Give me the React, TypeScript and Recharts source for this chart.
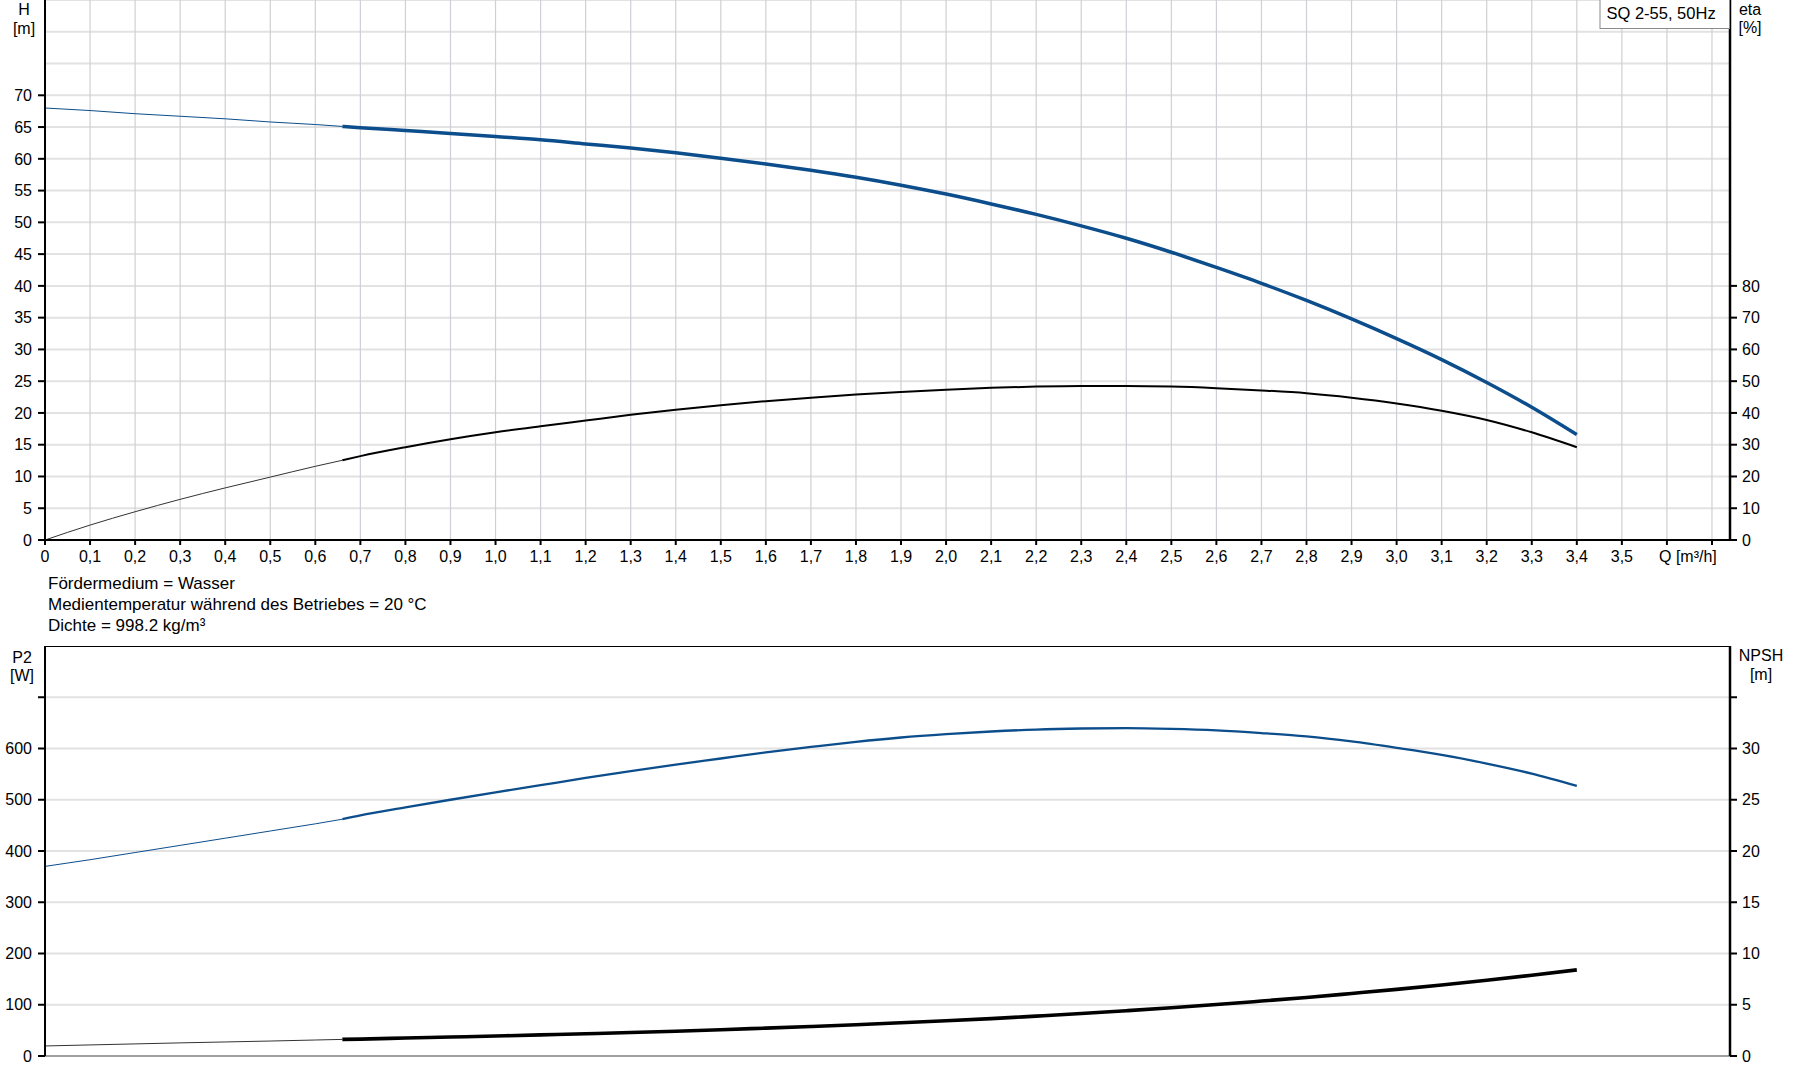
import React from 'react';
import { ComposedChart, Line, XAxis, YAxis, CartesianGrid, ReferenceLine } from 'recharts';

const FONT = '"Liberation Sans", Arial, sans-serif';
const BLUE = '#0c4d8c';

// flow rate Q [m³/h]; 0.66 is where the thin (extrapolated) part ends
const flowQ = [0, 0.1, 0.2, 0.3, 0.4, 0.5, 0.6, 0.66, 0.7, 0.8, 0.9, 1.0, 1.1, 1.2, 1.3, 1.4, 1.5, 1.6, 1.7, 1.8, 1.9, 2.0, 2.1, 2.2, 2.3, 2.4, 2.5, 2.6, 2.7, 2.8, 2.9, 3.0, 3.1, 3.2, 3.3, 3.4];
const headH = [68.0, 67.6, 67.1, 66.7, 66.3, 65.8, 65.4, 65.1, 64.9, 64.45, 64.0, 63.5, 63.0, 62.35, 61.7, 60.95, 60.1, 59.2, 58.2, 57.1, 55.85, 54.45, 52.9, 51.25, 49.45, 47.5, 45.3, 42.9, 40.4, 37.7, 34.8, 31.7, 28.4, 24.8, 20.9, 16.6];
const etaPct = [0, 4.7, 8.9, 12.8, 16.4, 19.8, 23.2, 25.1, 26.4, 29.2, 31.7, 33.9, 35.8, 37.6, 39.4, 41.0, 42.4, 43.7, 44.8, 45.8, 46.6, 47.3, 47.9, 48.3, 48.5, 48.5, 48.3, 47.8, 47.1, 46.2, 44.8, 43.0, 40.7, 37.8, 33.9, 29.2];
const powerP2 = [370, 383, 397, 411, 425, 439, 453, 462, 469.5, 485, 500, 514.5, 528.5, 542.5, 556, 568.5, 580.5, 592.5, 603, 613, 621.5, 628, 633.2, 637, 639, 639.7, 638.2, 635.2, 630, 623.5, 613.7, 601.3, 587.6, 570.6, 551, 527];
const npshM = [0.98, 1.08, 1.18, 1.28, 1.37, 1.46, 1.56, 1.62, 1.65, 1.75, 1.85, 1.95, 2.06, 2.17, 2.29, 2.42, 2.56, 2.72, 2.88, 3.05, 3.24, 3.44, 3.65, 3.89, 4.14, 4.42, 4.71, 5.02, 5.36, 5.71, 6.10, 6.50, 6.93, 7.39, 7.88, 8.40];

const SPLIT = 0.66;

const qTicks = [0, 0.1, 0.2, 0.3, 0.4, 0.5, 0.6, 0.7, 0.8, 0.9, 1.0, 1.1, 1.2, 1.3, 1.4, 1.5, 1.6, 1.7, 1.8, 1.9, 2.0, 2.1, 2.2, 2.3, 2.4, 2.5, 2.6, 2.7, 2.8, 2.9, 3.0, 3.1, 3.2, 3.3, 3.4, 3.5, 3.6, 3.7];
const hTicks = [0, 5, 10, 15, 20, 25, 30, 35, 40, 45, 50, 55, 60, 65, 70, 75, 80, 85];
const etaTicks = [0, 10, 20, 30, 40, 50, 60, 70, 80];
const p2Ticks = [0, 100, 200, 300, 400, 500, 600, 700, 800];
const npshTicks = [0, 5, 10, 15, 20, 25, 30, 35];

const rows = flowQ.map((q, i) => ({
  q,
  hThin: q <= SPLIT ? headH[i] : null,
  hMain: q >= SPLIT ? headH[i] : null,
  etaThin: q <= SPLIT ? etaPct[i] : null,
  etaMain: q >= SPLIT ? etaPct[i] : null,
  p2Thin: q <= SPLIT ? powerP2[i] : null,
  p2Main: q >= SPLIT ? powerP2[i] : null,
  npshThin: q <= SPLIT ? npshM[i] : null,
  npshMain: q >= SPLIT ? npshM[i] : null,
}));

const fmtQ = (v: number) => (v > 3.55 ? '' : v === 0 ? '0' : v.toFixed(1).replace('.', ','));

const leftTick = (maxLabel: number, maxMark: number) => (props: any) => {
  const { x, y, payload } = props;
  const v = payload.value;
  return (
    <g>
      {v <= maxMark && <line x1={x + 6} x2={x + 13} y1={y} y2={y} stroke="#000" strokeWidth={2} />}
      {v <= maxLabel && (
        <text x={x} y={y + 5.7} textAnchor="end" fontSize={16} fontFamily={FONT} fill="#000">{v}</text>
      )}
    </g>
  );
};

const rightTick = (maxLabel: number, maxMark: number) => (props: any) => {
  const { x, y, payload } = props;
  const v = payload.value;
  return (
    <g>
      {v <= maxMark && <line x1={x - 12} x2={x - 5} y1={y} y2={y} stroke="#000" strokeWidth={2} />}
      {v <= maxLabel && (
        <text x={x} y={y + 5.7} textAnchor="start" fontSize={16} fontFamily={FONT} fill="#000">{v}</text>
      )}
    </g>
  );
};

const txt = { fontFamily: FONT, fontSize: 16, fill: '#000' };

export default function App() {
  return (
    <div style={{ position: 'absolute', left: 0, top: 0, width: 1795, height: 1081, background: '#fff', overflow: 'hidden', fontFamily: FONT }}>
      <div style={{ position: 'absolute', left: 0, top: 0 }}>
        <ComposedChart width={1795} height={575} data={rows} margin={{ top: 0, right: 0, bottom: 0, left: 0 }}>
          <CartesianGrid yAxisId="h" vertical={false} stroke="#e2e2e2" strokeWidth={2} />
          <CartesianGrid yAxisId="h" horizontal={false} stroke="#cdd0d4" strokeWidth={1.2} />
          <XAxis
            dataKey="q"
            type="number"
            domain={[0, 3.74]}
            allowDataOverflow
            ticks={qTicks}
            interval={0}
            tickFormatter={fmtQ}
            height={35}
            tickSize={5}
            tickMargin={6}
            axisLine={{ stroke: '#000', strokeWidth: 2 }}
            tickLine={{ stroke: '#000', strokeWidth: 2 }}
            tick={{ fontSize: 16, fill: '#000', fontFamily: FONT }}
          />
          <YAxis yAxisId="h" orientation="left" width={45} domain={[0, 85]} ticks={hTicks} interval={0}
            tickSize={7} tickMargin={6} tickLine={false} axisLine={{ stroke: '#000', strokeWidth: 2 }} tick={leftTick(70, 70)} />
          <YAxis yAxisId="eta" orientation="right" width={65} domain={[0, 170]} ticks={etaTicks} interval={0}
            tickSize={7} tickMargin={5} tickLine={false} axisLine={{ stroke: '#000', strokeWidth: 2.5 }} tick={rightTick(80, 80)} />
          <Line yAxisId="h" dataKey="hThin" type="monotone" stroke={BLUE} strokeWidth={1} dot={false} isAnimationActive={false} connectNulls={false} />
          <Line yAxisId="h" dataKey="hMain" type="monotone" stroke={BLUE} strokeWidth={3.5} dot={false} isAnimationActive={false} connectNulls={false} />
          <Line yAxisId="eta" dataKey="etaThin" type="monotone" stroke="#333" strokeWidth={1} dot={false} isAnimationActive={false} connectNulls={false} />
          <Line yAxisId="eta" dataKey="etaMain" type="monotone" stroke="#000" strokeWidth={2} dot={false} isAnimationActive={false} connectNulls={false} />
        </ComposedChart>
      </div>

      <div style={{ position: 'absolute', left: 0, top: 646 }}>
        <ComposedChart width={1795} height={435} data={rows} margin={{ top: 0, right: 0, bottom: 0, left: 0 }}>
          <CartesianGrid yAxisId="p" vertical={false} stroke="#e2e2e2" strokeWidth={2} />
          <CartesianGrid yAxisId="p" horizontal={false} stroke="#cdd0d4" strokeWidth={1.2} />
          <XAxis
            dataKey="q"
            type="number"
            domain={[0, 3.74]}
            allowDataOverflow
            ticks={qTicks}
            interval={0}
            height={25}
            tick={false}
            tickLine={false}
            axisLine={{ stroke: '#888', strokeWidth: 1.5 }}
          />
          <YAxis yAxisId="p" orientation="left" width={45} domain={[0, 800]} ticks={p2Ticks} interval={0}
            tickSize={7} tickMargin={6} tickLine={false} axisLine={{ stroke: '#000', strokeWidth: 2 }} tick={leftTick(600, 700)} />
          <YAxis yAxisId="n" orientation="right" width={65} domain={[0, 40]} ticks={npshTicks} interval={0}
            tickSize={7} tickMargin={5} tickLine={false} axisLine={{ stroke: '#000', strokeWidth: 2.5 }} tick={rightTick(30, 35)} />
          <ReferenceLine yAxisId="p" y={800} stroke="#000" strokeWidth={2} />
          <Line yAxisId="p" dataKey="p2Thin" type="monotone" stroke={BLUE} strokeWidth={1} dot={false} isAnimationActive={false} connectNulls={false} />
          <Line yAxisId="p" dataKey="p2Main" type="monotone" stroke={BLUE} strokeWidth={2.3} dot={false} isAnimationActive={false} connectNulls={false} />
          <Line yAxisId="n" dataKey="npshThin" type="monotone" stroke="#333" strokeWidth={1} dot={false} isAnimationActive={false} connectNulls={false} />
          <Line yAxisId="n" dataKey="npshMain" type="monotone" stroke="#000" strokeWidth={3.6} dot={false} isAnimationActive={false} connectNulls={false} />
        </ComposedChart>
      </div>

      <svg width={1795} height={1081} style={{ position: 'absolute', left: 0, top: 0, pointerEvents: 'none' }}>
        <text x={24} y={15} textAnchor="middle" {...txt}>H</text>
        <text x={24} y={34} textAnchor="middle" {...txt}>[m]</text>
        <text x={1750} y={15} textAnchor="middle" {...txt}>eta</text>
        <text x={1750} y={33} textAnchor="middle" {...txt}>[%]</text>
        <rect x={1600} y={-1} width={129.5} height={29.5} fill="#fff" stroke="#8a8a8a" strokeWidth={1} />
        <text x={1606.5} y={19} {...txt} fontSize={16.5}>SQ 2-55, 50Hz</text>
        <text x={1659} y={562} {...txt}>Q [m³/h]</text>
        <text x={48} y={589} {...txt} fontSize={17}>Fördermedium = Wasser</text>
        <text x={48} y={610} {...txt} fontSize={17}>Medientemperatur während des Betriebes = 20 °C</text>
        <text x={48} y={631} {...txt} fontSize={17}>Dichte = 998.2 kg/m³</text>
        <text x={22} y={663} textAnchor="middle" {...txt}>P2</text>
        <text x={22} y={681} textAnchor="middle" {...txt}>[W]</text>
        <text x={1761} y={661} textAnchor="middle" {...txt}>NPSH</text>
        <text x={1761} y={680} textAnchor="middle" {...txt}>[m]</text>
      </svg>
    </div>
  );
}
